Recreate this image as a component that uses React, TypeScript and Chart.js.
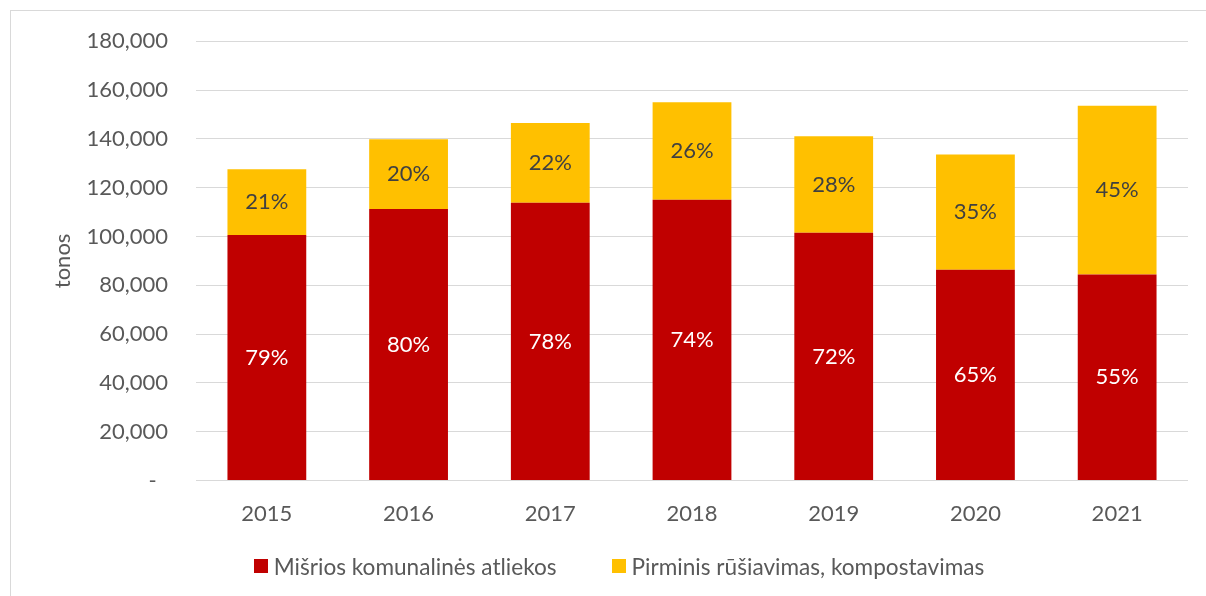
import React, { useEffect, useRef } from "react";
import { Chart, registerables } from "chart.js";

Chart.register(...registerables);

const categories = ["2015", "2016", "2017", "2018", "2019", "2020", "2021"];
const mixedWaste = [100600, 111300, 113800, 115100, 101500, 86400, 84400];
const sortedWaste = [26900, 28500, 32700, 39900, 39600, 47200, 69200];
const mixedShare = ["79%", "80%", "78%", "74%", "72%", "65%", "55%"];
const sortedShare = ["21%", "20%", "22%", "26%", "28%", "35%", "45%"];
const seriesNames = ["Mišrios komunalinės atliekos", "Pirminis rūšiavimas, kompostavimas"];
const yTitle = "tonos";

const RED = "#C00000";
const YELLOW = "#FFC000";
const FONT = "Lato, 'Noto Sans', sans-serif";
const FS = 22;

const labelPlugin = {
  id: "barLabels",
  afterDatasetsDraw(chart: any) {
    const ctx = chart.ctx;
    const labelSets = [mixedShare, sortedShare];
    const colors = ["#FFFFFF", "#404040"];
    ctx.save();
    ctx.font = `${FS}px ${FONT}`;
    ctx.textAlign = "center";
    ctx.textBaseline = "middle";
    chart.data.datasets.forEach((_: any, di: number) => {
      const meta = chart.getDatasetMeta(di);
      ctx.fillStyle = colors[di];
      meta.data.forEach((el: any, i: number) => {
        const y = (el.y + el.base) / 2;
        ctx.fillText(labelSets[di][i], el.x, y);
      });
    });
    ctx.restore();
  },
};

export default function App() {
  const ref = useRef<HTMLCanvasElement | null>(null);
  useEffect(() => {
    if (!ref.current) return;
    const chart = new Chart(ref.current, {
      type: "bar",
      data: {
        labels: categories,
        datasets: [
          { label: seriesNames[0], data: mixedWaste, backgroundColor: RED },
          { label: seriesNames[1], data: sortedWaste, backgroundColor: YELLOW },
        ],
      },
      plugins: [labelPlugin],
      options: {
        animation: false,
        responsive: false,
        maintainAspectRatio: false,
        layout: { padding: { left: 46, right: 18, top: 40, bottom: 49 } },
        plugins: { legend: { display: false }, tooltip: { enabled: false } },
        datasets: { bar: { categoryPercentage: 1, barPercentage: 0.556 } },
        scales: {
          x: {
            stacked: true,
            grid: { display: false, drawTicks: false },
            border: { display: false },
            ticks: { color: "#595959", font: { family: FONT, size: FS }, padding: 20 },
          },
          y: {
            stacked: true,
            min: 0,
            max: 180000,
            afterFit: (scale: any) => {
              scale.width = 150;
            },
            grid: { color: "#d9d9d9", lineWidth: 1, drawTicks: false },
            border: { display: false },
            ticks: {
              stepSize: 20000,
              color: "#595959",
              font: { family: FONT, size: FS },
              padding: 28,
              callback: (v: any) => (v === 0 ? "-\u00a0\u00a0" : Number(v).toLocaleString("en-US")),
            },
            title: {
              display: true,
              text: yTitle,
              color: "#595959",
              font: { family: FONT, size: FS },
              padding: { top: 4, bottom: 4 },
            },
          },
        },
      },
    });
    return () => chart.destroy();
  }, []);

  const box = (c: string) => (
    <span style={{ display: "inline-block", width: 14, height: 14, background: c, marginRight: 6 }} />
  );

  return (
    <div style={{ position: "fixed", left: 0, top: 0, width: 1206, height: 596, overflow: "hidden", background: "#fff" }}>
      <div style={{ position: "absolute", left: 10, top: 10, width: 1300, height: 700, border: "1px solid #d9d9d9" }} />
      <canvas ref={ref} width={1206} height={596} style={{ position: "absolute", left: 0, top: 0, width: 1206, height: 596 }} />
      <div
        style={{
          position: "absolute",
          left: 0,
          top: 566 - 14,
          width: 1206,
          height: 28,
          display: "flex",
          justifyContent: "center",
          alignItems: "center",
          fontFamily: FONT,
          fontSize: 22.6,
          color: "#595959",
          paddingLeft: 32,
          boxSizing: "border-box",
        }}
      >
        <span style={{ display: "flex", alignItems: "center", marginRight: 55 }}>
          {box(RED)}
          {seriesNames[0]}
        </span>
        <span style={{ display: "flex", alignItems: "center" }}>
          {box(YELLOW)}
          {seriesNames[1]}
        </span>
      </div>
    </div>
  );
}
